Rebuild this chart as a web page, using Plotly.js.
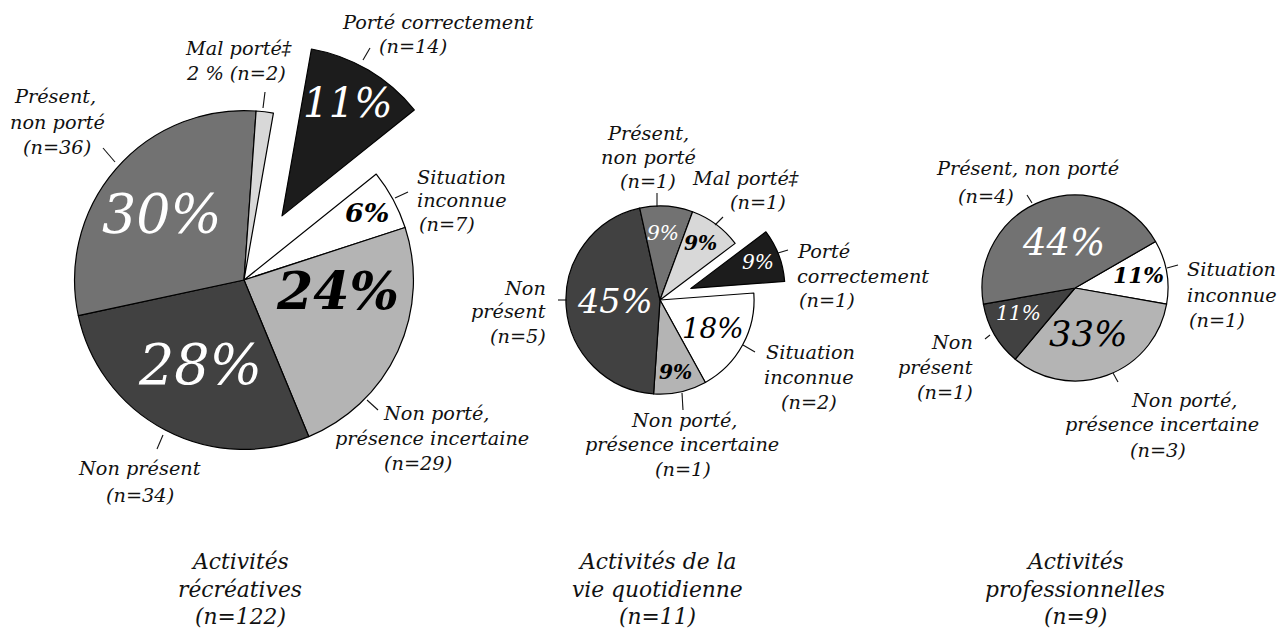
<!DOCTYPE html>
<html><head><meta charset="utf-8">
<script src="https://cdn.plot.ly/plotly-3.0.1.min.js"></script>
<style>html,body{margin:0;padding:0;background:#fff;overflow:hidden}#chart{width:1281px;height:631px}</style>
</head><body>
<div id="chart"></div>
<script>
const W = 1281, H = 631;

// ---------- DATA ----------
const labels1 = ['Porté correctement','Situation inconnue','Non porté, présence incertaine','Non présent','Présent, non porté','Mal porté'];
const values1 = [14, 7, 29, 34, 36, 2];
const labels2 = ['Porté correctement','Situation inconnue','Non porté, présence incertaine','Non présent','Présent, non porté','Mal porté'];
const values2 = [1, 2, 1, 5, 1, 1];
const labels3 = ['Situation inconnue','Non porté, présence incertaine','Non présent','Présent, non porté'];
const values3 = [1, 3, 1, 4];
const titleLines1 = ['Activités', 'récréatives', '(n=122)'];
const titleLines2 = ['Activités de la', 'vie quotidienne', '(n=11)'];
const titleLines3 = ['Activités', 'professionnelles', '(n=9)'];

const colorOf = {
  'Porté correctement': '#1c1c1c',
  'Situation inconnue': '#ffffff',
  'Non porté, présence incertaine': '#b4b4b4',
  'Non présent': '#414141',
  'Présent, non porté': '#727272',
  'Mal porté': '#d8d8d8'
};

// ---------- helpers ----------
const px = x => x / W, py = y => 1 - y / H;
function dom(cx, cy, half) {
  return {x: [Math.max(0, px(cx - half)), Math.min(1, px(cx + half))], y: [py(cy + half), py(cy - half)]};
}
function pie(labels, values, domain, rotation, pullFor) {
  return {
    type: 'pie', labels: labels, values: values, sort: false, direction: 'clockwise',
    rotation: rotation, domain: domain, textinfo: 'none', hoverinfo: 'skip',
    pull: labels.map(l => pullFor[l] || 0),
    marker: {colors: labels.map(l => colorOf[l]), line: {color: '#000', width: 1.2}},
    showlegend: false
  };
}
const sum = a => a.reduce((s, v) => s + v, 0);
const pct = (vals, i) => Math.round(100 * vals[i] / sum(vals)) + '%';
const nOf = (vals, i) => '(n=' + vals[i] + ')';

const texts = [];
const shapes = [];
function txt(text, x, y, size, anchor, color, bold) {
  texts.push({text, x, y, size, anchor: anchor || 'center', color: color || '#111', bold: !!bold});
}
function seg(x0, y0, x1, y1) {
  shapes.push({type: 'line', xref: 'paper', yref: 'paper', x0: px(x0), y0: py(y0), x1: px(x1), y1: py(y1),
    line: {color: '#111', width: 1.1}});
}
function buildAnnotations(family, factor) {
  return texts.map(t => ({xref: 'paper', yref: 'paper', x: px(t.x), y: py(t.y), text: t.text, showarrow: false,
    xanchor: t.anchor, yanchor: 'middle',
    font: {family: family, size: Math.round(t.size * factor * 10) / 10, color: t.color,
           style: 'italic', weight: t.bold ? 'bold' : 'normal'}}));
}

// ---------- traces ----------
const traces = [
  pie(labels1, values1, dom(244, 280, 244), 10, {'Porté correctement': 0.44}),
  pie(labels2, values2, dom(660, 300, 127), 53, {'Porté correctement': 0.35}),
  pie(labels3, values3, dom(1075, 288, 93), 60, {})
];

const LS = 23;
// ---------- pie 1 ----------
txt(pct(values1, 4), 162, 215, 64, 'center', '#fff');
txt(pct(values1, 3), 200, 365, 66, 'center', '#fff');
txt(pct(values1, 2), 337, 290, 62, 'center', '#000', true);
txt(pct(values1, 0), 348, 103, 48, 'center', '#fff');
txt(pct(values1, 1), 367, 213, 32, 'center', '#000', true);
txt('Porté correctement', 438, 23, LS);
txt(nOf(values1, 0), 413, 47, LS);
seg(363, 60, 370, 48);
txt('Mal porté‡', 238, 48, LS);
txt(pct(values1, 5).replace('%', ' %') + ' ' + nOf(values1, 5), 236, 73, LS);
seg(265, 92, 263, 108);
txt('Présent,', 55, 97, LS);
txt('non porté', 57, 122, LS);
txt(nOf(values1, 4), 57, 147, LS);
seg(103, 148, 115, 162);
txt('Situation', 415, 177, LS, 'left');
txt('inconnue', 415, 200, LS, 'left');
txt(nOf(values1, 1), 417, 224, LS, 'left');
seg(395, 198, 408, 192);
txt('Non porté,', 436, 413, LS);
txt('présence incertaine', 432, 438, LS);
txt(nOf(values1, 2), 418, 463, LS);
seg(367, 400, 378, 410);
txt('Non présent', 139, 468, LS);
txt(nOf(values1, 3), 140, 495, LS);
seg(157, 449, 163, 435);

// ---------- pie 2 ----------
txt(pct(values2, 3), 615, 302, 40, 'center', '#fff');
txt(pct(values2, 4), 663, 233, 24, 'center', '#fff');
txt(pct(values2, 5), 700, 243, 24, 'center', '#000', true);
txt(pct(values2, 0), 758, 262, 24, 'center', '#fff');
txt(pct(values2, 1), 713, 328, 33, 'center', '#000');
txt(pct(values2, 2), 675, 372, 24, 'center', '#000', true);
txt('Présent,', 648, 133, LS);
txt('non porté', 648, 157, LS);
txt(nOf(values2, 4), 648, 181, LS);
seg(657, 193, 657, 207);
txt('Mal porté‡', 745, 179, LS);
txt(nOf(values2, 5), 758, 203, LS);
seg(715, 225, 723, 217);
txt('Porté', 795, 252, LS, 'left');
txt('correctement', 795, 276, LS, 'left');
txt(nOf(values2, 0), 797, 300, LS, 'left');
seg(778, 253, 788, 250);
txt('Situation', 810, 352, LS);
txt('inconnue', 809, 377, LS);
txt(nOf(values2, 1), 809, 402, LS);
seg(743, 345, 755, 352);
txt('Non porté,', 684, 420, LS);
txt('présence incertaine', 682, 444, LS);
txt(nOf(values2, 2), 683, 469, LS);
seg(682, 393, 683, 410);
txt('Non', 548, 288, LS, 'right');
txt('présent', 548, 312, LS, 'right');
txt(nOf(values2, 3), 548, 336, LS, 'right');
seg(558, 300, 567, 300);

// ---------- pie 3 ----------
txt(pct(values3, 3), 1063, 243, 44, 'center', '#fff');
txt(pct(values3, 0), 1138, 275, 26, 'center', '#000', true);
txt(pct(values3, 2), 1018, 313, 24, 'center', '#fff');
txt(pct(values3, 1), 1088, 333, 42, 'center', '#000');
txt('Présent, non porté', 1027, 169, LS);
txt(nOf(values3, 3), 986, 196, LS);
seg(1027, 195, 1032, 203);
txt('Situation', 1185, 269, LS, 'left');
txt('inconnue', 1185, 295, LS, 'left');
txt(nOf(values3, 0), 1187, 320, LS, 'left');
seg(1167, 268, 1178, 265);
txt('Non porté,', 1184, 400, LS);
txt('présence incertaine', 1162, 425, LS);
txt(nOf(values3, 1), 1158, 450, LS);
seg(1113, 373, 1118, 382);
txt('Non', 975, 342, LS, 'right');
txt('présent', 975, 367, LS, 'right');
txt(nOf(values3, 2), 975, 392, LS, 'right');
seg(985, 339, 990, 335);

// ---------- titles ----------
const TY = [561, 589, 616];
titleLines1.forEach((t, i) => txt(t, 240, TY[i], 26));
titleLines2.forEach((t, i) => txt(t, 657, TY[i], 26));
titleLines3.forEach((t, i) => txt(t, 1075, TY[i], 26));

const layout = {
  width: W, height: H, margin: {l: 0, r: 0, t: 0, b: 0},
  paper_bgcolor: '#fff', plot_bgcolor: '#fff', showlegend: false,
  annotations: buildAnnotations('DejaVu Serif', 0.84), shapes: shapes
};
Plotly.newPlot('chart', traces, layout, {staticPlot: true, displayModeBar: false});

// upgrade to the narrower Liberation Serif only if its faces really load
if (document.fonts && document.fonts.load) {
  Promise.all([
    document.fonts.load('italic 23px "Liberation Serif"'),
    document.fonts.load('italic bold 23px "Liberation Serif"')
  ]).then(res => {
    if (res[0] && res[0].length > 0) {
      Plotly.relayout('chart', {annotations: buildAnnotations('Liberation Serif', 1)});
    }
  }).catch(() => {});
}
</script>
</body></html>
